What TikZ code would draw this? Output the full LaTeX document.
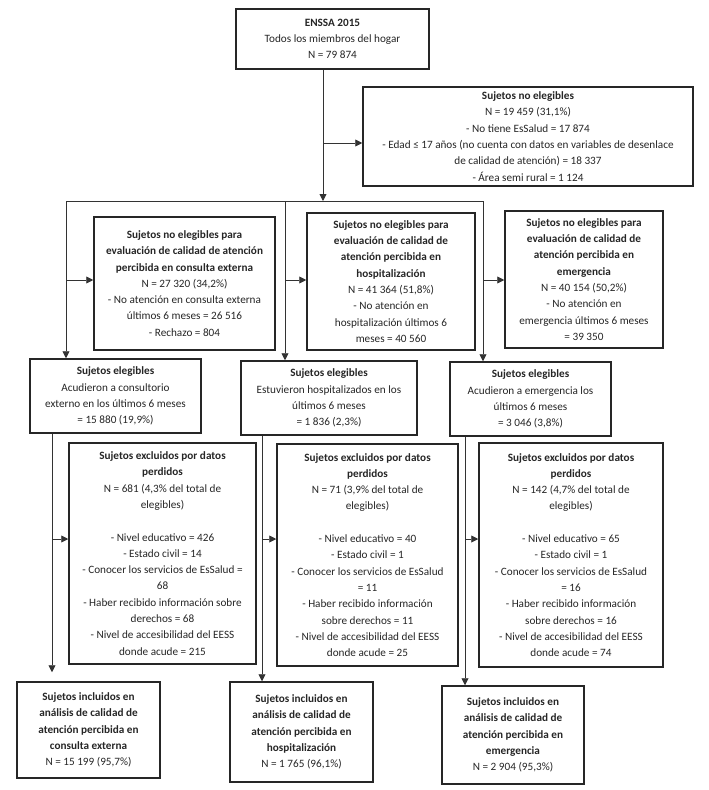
\documentclass[tikz,border=0pt]{standalone}
\usepackage{fontspec}
\setmainfont{Carlito}
\usetikzlibrary{arrows.meta,calc}
\begin{document}
\begin{tikzpicture}[x=1pt,y=-1pt,
  box/.style={draw=black!85, line width=1.5pt, align=center, inner sep=0pt,
    font=\fontsize{11.2}{16.3}\selectfont, text=black!85},
  conn/.style={draw=black!80, line width=0.9pt},
  arr/.style={conn, -{Triangle[length=7pt,width=7pt]}}]
\useasboundingbox (0,0) rectangle (709,790);
\fill[white] (0,0) rectangle (709,790);

\node[box, minimum width=193, minimum height=60] (top) at (332.5,39)
  {\textbf{ENSSA 2015}\\Todos los miembros del hogar\\N = 79 874};
\node[box, minimum width=330, minimum height=99] (ne) at (528,136.5)
  {\textbf{Sujetos no elegibles}\\N = 19 459 (31,1\%)\\- No tiene EsSalud = 17 874\\- Edad ≤ 17 años (no cuenta con datos en variables de desenlace\\de calidad de atención) = 18 337\\- Área semi rural = 1 124};

\node[box, minimum width=181, minimum height=133] (A) at (184.5,283.5)
  {\textbf{Sujetos no elegibles para}\\\textbf{evaluación de calidad de atención}\\\textbf{percibida en consulta externa}\\N = 27 320 (34,2\%)\\- No atención en consulta externa\\últimos 6 meses = 26 516\\- Rechazo = 804};
\node[box, minimum width=168, minimum height=137] (B) at (391,281.5)
  {\textbf{Sujetos no elegibles para}\\\textbf{evaluación de calidad de}\\\textbf{atención percibida en}\\\textbf{hospitalización}\\N = 41 364 (51,8\%)\\- No atención en\\hospitalización últimos 6\\meses = 40 560};
\node[box, minimum width=158, minimum height=137] (C) at (584,279.5)
  {\textbf{Sujetos no elegibles para}\\\textbf{evaluación de calidad de}\\\textbf{atención percibida en}\\\textbf{emergencia}\\N = 40 154 (50,2\%)\\- No atención en\\emergencia últimos 6 meses\\= 39 350};

\node[box, minimum width=171, minimum height=74] (E1) at (115.5,396)
  {\textbf{Sujetos elegibles}\\Acudieron a consultorio\\externo en los últimos 6 meses\\= 15 880 (19,9\%)};
\node[box, minimum width=176, minimum height=74] (E2) at (329,398)
  {\textbf{Sujetos elegibles}\\Estuvieron hospitalizados en los\\últimos 6 meses\\= 1 836 (2,3\%)};
\node[box, minimum width=161, minimum height=74] (E3) at (530.5,399)
  {\textbf{Sujetos elegibles}\\Acudieron a emergencia los\\últimos 6 meses\\= 3 046 (3,8\%)};

\node[box, minimum width=187, minimum height=221] (X1) at (162.5,553.5)
  {\textbf{Sujetos excluidos por datos}\\\textbf{perdidos}\\N = 681 (4,3\% del total de\\elegibles)\\[16.3pt]- Nivel educativo = 426\\- Estado civil = 14\\- Conocer los servicios de EsSalud =\\68\\- Haber recibido información sobre\\derechos = 68\\- Nivel de accesibilidad del EESS\\donde acude = 215};
\node[box, minimum width=181, minimum height=222] (X2) at (367.5,555)
  {\textbf{Sujetos excluidos por datos}\\\textbf{perdidos}\\N = 71 (3,9\% del total de\\elegibles)\\[16.3pt]- Nivel educativo = 40\\- Estado civil = 1\\- Conocer los servicios de EsSalud\\= 11\\- Haber recibido información\\sobre derechos = 11\\- Nivel de accesibilidad del EESS\\donde acude = 25};
\node[box, minimum width=184, minimum height=224] (X3) at (571,555)
  {\textbf{Sujetos excluidos por datos}\\\textbf{perdidos}\\N = 142 (4,7\% del total de\\elegibles)\\[16.3pt]- Nivel educativo = 65\\- Estado civil = 1\\- Conocer los servicios de EsSalud\\= 16\\- Haber recibido información\\sobre derechos = 16\\- Nivel de accesibilidad del EESS\\donde acude = 74};

\node[box, minimum width=143, minimum height=96] (I1) at (88.5,730)
  {\textbf{Sujetos incluidos en}\\\textbf{análisis de calidad de}\\\textbf{atención percibida en}\\\textbf{consulta externa}\\N = 15 199 (95,7\%)};
\node[box, minimum width=143, minimum height=100] (I2) at (301.5,732)
  {\textbf{Sujetos incluidos en}\\\textbf{análisis de calidad de}\\\textbf{atención percibida en}\\\textbf{hospitalización}\\N = 1 765 (96,1\%)};
\node[box, minimum width=142, minimum height=98] (I3) at (513,735)
  {\textbf{Sujetos incluidos en}\\\textbf{análisis de calidad de}\\\textbf{atención percibida en}\\\textbf{emergencia}\\N = 2 904 (95,3\%)};

% junction coordinates
\coordinate (j0) at (323,201);
\coordinate (b1) at (323,143);
\coordinate (hL) at (66,201);
\coordinate (hM) at (285,201);
\coordinate (hR) at (483,201);
\coordinate (rM) at (0,280);
\coordinate (v1) at (52,0);
\coordinate (v2) at (262,0);
\coordinate (v3) at (465,0);
\coordinate (rX) at (0,539);

\draw[arr] (top.south -| j0) -- (j0);
\draw[arr] (b1) -- (b1 -| ne.west);
\draw[conn] (hL) -- (hR);
\draw[arr] (hL) -- (hL |- E1.north);
\draw[arr] (hM) -- (hM |- E2.north);
\draw[arr] (hR) -- (hR |- E3.north);
\draw[arr] (hL |- rM) -- (A.west |- rM);
\draw[arr] (hM |- rM) -- (B.west |- rM);
\draw[arr] (hR |- rM) -- (C.west |- rM);

\draw[arr, shorten >=9pt] (v1 |- E1.south) -- (v1 |- I1.north);
\draw[arr] (v2 |- E2.south) -- (v2 |- I2.north);
\draw[arr] (v3 |- E3.south) -- (v3 |- I3.north);
\draw[arr] (v1 |- rX) -- (X1.west |- rX);
\draw[arr] (v2 |- rX) -- (X2.west |- rX);
\draw[arr] (v3 |- rX) -- (X3.west |- rX);
\end{tikzpicture}
\end{document}
